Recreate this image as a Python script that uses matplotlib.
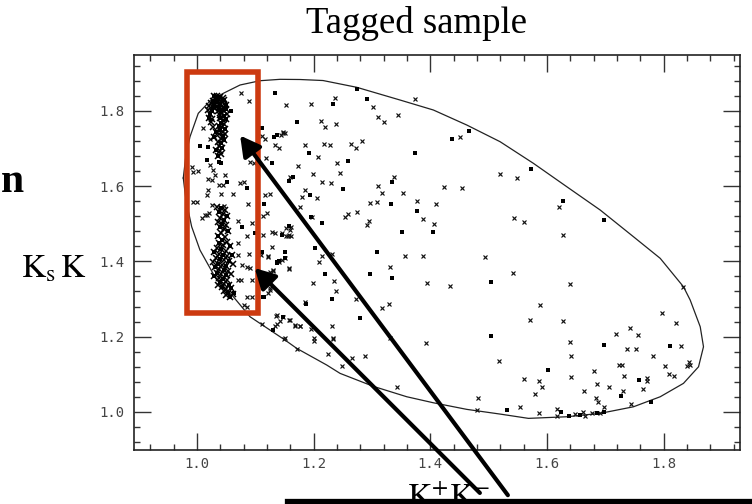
import matplotlib
matplotlib.use("Agg")
import matplotlib.pyplot as plt
from matplotlib.patches import Rectangle
from matplotlib.ticker import MultipleLocator, FixedLocator

plt.rcParams['mathtext.fontset'] = 'stix'

# ---------------- data ----------------
x_ticks = [1.0, 1.2, 1.4, 1.6, 1.8]
y_ticks = [1.0, 1.2, 1.4, 1.6, 1.8]
x_tick_labels = ["1.0", "1.2", "1.4", "1.6", "1.8"]
y_tick_labels = ["1.0", "1.2", "1.4", "1.6", "1.8"]

# traced boundary of the selection ellipse
ellipse_x = [0.9765, 0.9811, 0.9880, 1.0022, 1.0223, 1.0451, 1.0738, 1.1081, 1.1424, 1.1767,
             1.2161, 1.2739, 1.3482, 1.4053, 1.4626, 1.5197, 1.5768, 1.6341, 1.6913, 1.7484,
             1.7942, 1.8341, 1.8456, 1.8628, 1.8684, 1.8599, 1.8341, 1.7942, 1.7484, 1.6913,
             1.6341, 1.5683, 1.5197, 1.4626, 1.4053, 1.3597, 1.3024, 1.2453, 1.2225, 1.1710,
             1.1509, 1.0909, 1.0623, 1.0338, 1.0051, 0.9909, 0.9811, 0.9765]
ellipse_y = [1.6213, 1.6823, 1.7309, 1.7931, 1.8258, 1.8462, 1.8683, 1.8797, 1.8834, 1.8829,
             1.8802, 1.8622, 1.8284, 1.8019, 1.7620, 1.7177, 1.6603, 1.5981, 1.5363, 1.4653,
             1.4080, 1.3325, 1.2972, 1.2263, 1.1732, 1.1200, 1.0760, 1.0404, 1.0138, 0.9963,
             0.9873, 0.9830, 0.9944, 1.0069, 1.0244, 1.0404, 1.0680, 1.1025, 1.1246, 1.1689,
             1.1910, 1.2529, 1.3060, 1.3503, 1.4300, 1.4919, 1.5628, 1.6213]

# events drawn as crosses
cross_x = [1.195, 1.236, 1.302, 1.373, 1.212, 1.219, 1.239, 1.311, 1.320, 1.345, 1.148, 1.185, 1.218, 1.228,
           1.264, 1.272, 1.283, 1.208, 1.240, 1.174, 1.199, 1.246, 1.214, 1.230, 1.185, 1.180, 1.206, 1.177,
           1.254, 1.259, 1.275, 1.292, 1.295, 1.296, 1.308, 1.310, 1.318, 1.338, 1.353, 1.378, 1.388, 1.409,
           1.407, 1.424, 1.454, 1.451, 1.520, 1.548, 1.544, 1.561, 1.493, 1.541, 1.434, 1.395, 1.357, 1.388,
           1.331, 1.272, 1.318, 1.329, 1.571, 1.588, 1.231, 1.235, 1.238, 1.199, 1.232, 1.214, 1.209, 1.157,
           1.153, 1.162, 1.156, 1.157, 1.168, 1.176, 1.196, 1.200, 1.233, 1.151, 1.331, 1.153,
           1.621, 1.628, 1.639, 1.834,
           1.627, 1.639, 1.641, 1.393, 1.518, 1.561, 1.587, 1.591, 1.579, 1.641, 1.664, 1.681, 1.686, 1.707,
           1.719, 1.737, 1.752, 1.743, 1.756, 1.781, 1.723, 1.728, 1.732, 1.771, 1.771, 1.730, 1.764, 1.684,
           1.688, 1.698, 1.744, 1.797, 1.822, 1.830, 1.802, 1.810, 1.817, 1.843, 1.840, 1.845, 1.481, 1.480,
           1.553, 1.587, 1.617, 1.617, 1.648, 1.661, 1.665, 1.677, 1.691,
           1.111, 1.134, 1.137, 1.122, 1.125, 1.124, 1.130, 1.122, 1.136, 1.142, 1.150, 1.171, 1.201, 1.234,
           1.224, 1.265, 1.248, 1.288, 1.343,
           1.075, 1.090, 1.112, 1.116, 1.144, 1.151, 1.011, 1.022, 1.022, 1.028, 1.031, 1.002, 0.994, 1.048,
           1.019, 1.025, 1.037, 1.045, 1.062, 1.042, 1.074, 1.080, 1.019, 1.017, 0.994, 1.000, 1.091, 1.097,
           1.134, 1.140, 1.117, 1.126, 1.160, 1.025, 1.047, 1.020, 1.017, 1.070, 1.088, 1.094, 1.085, 1.070,
           1.071, 1.089, 1.078, 1.085, 1.091, 1.071, 1.076, 1.094, 1.085, 1.094, 1.085, 1.080, 1.113, 1.128,
           1.134, 1.145, 1.157, 1.160, 1.114, 1.128, 1.122, 1.140, 1.145, 1.151, 1.157, 1.125, 1.131, 1.117,
           1.125, 1.197, 1.185, 1.137, 1.148, 1.160, 1.168, 1.177, 1.118, 1.120, 1.110, 1.153, 1.162, 1.148,
           1.008, 0.991, 1.014]
cross_y = [1.818, 1.833, 1.811, 1.830, 1.773, 1.758, 1.766, 1.784, 1.771, 1.788, 1.742, 1.708, 1.712, 1.708,
           1.711, 1.700, 1.720, 1.677, 1.662, 1.654, 1.631, 1.634, 1.612, 1.607, 1.589, 1.571, 1.567, 1.545,
           1.519, 1.525, 1.531, 1.497, 1.507, 1.554, 1.558, 1.600, 1.581, 1.623, 1.581, 1.561, 1.512, 1.551,
           1.498, 1.598, 1.596, 1.731, 1.631, 1.621, 1.516, 1.505, 1.412, 1.370, 1.335, 1.343, 1.415, 1.415,
           1.386, 1.299, 1.275, 1.286, 1.243, 1.284, 1.229, 1.348, 1.321, 1.342, 1.420, 1.413, 1.399, 1.381,
           1.488, 1.492, 1.466, 1.243, 1.228, 1.227, 1.220, 1.196, 1.196, 1.196, 1.196, 1.815,
           1.545, 1.469, 1.341, 1.331,
           1.241, 1.187, 1.149, 1.182, 1.136, 1.087, 1.083, 1.065, 1.047, 1.094, 1.057, 1.110, 1.073, 1.065,
           1.207, 1.166, 1.167, 1.223, 1.205, 1.149, 1.125, 1.125, 1.095, 1.091, 1.083, 1.056, 1.060, 1.038,
           1.026, 1.014, 1.021, 1.262, 1.235, 1.175, 1.123, 1.101, 1.095, 1.134, 1.122, 1.125, 1.037, 1.005,
           1.014, 0.996, 1.007, 0.988, 0.995, 1.001, 0.988, 0.996, 0.996,
           1.234, 1.227, 1.234, 1.315, 1.328, 1.359, 1.375, 1.412, 1.256, 1.242, 1.193, 1.167, 1.189, 1.193,
           1.153, 1.142, 1.122, 1.149, 1.067,
           1.848, 1.825, 1.734, 1.724, 1.735, 1.741, 1.753, 1.726, 1.656, 1.642, 1.629, 1.640, 1.636, 1.629,
           1.620, 1.616, 1.603, 1.603, 1.580, 1.580, 1.607, 1.611, 1.589, 1.576, 1.558, 1.558, 1.664, 1.660,
           1.709, 1.700, 1.576, 1.580, 1.625, 1.550, 1.547, 1.528, 1.523, 1.508, 1.552, 1.501, 1.467, 1.448,
           1.417, 1.420, 1.390, 1.386, 1.382, 1.351, 1.351, 1.351, 1.306, 1.306, 1.280, 1.284, 1.521, 1.479,
           1.474, 1.474, 1.470, 1.483, 1.470, 1.439, 1.413, 1.399, 1.404, 1.408, 1.382, 1.373, 1.377, 1.342,
           1.324, 1.519, 1.293, 1.258, 1.253, 1.244, 1.231, 1.228, 1.674, 1.528, 1.418, 1.468, 1.468, 1.744,
           1.515, 1.650, 1.524]

# events drawn as small filled dots
dot_x = [1.234, 1.292, 1.275, 1.172, 1.192, 1.259, 1.165, 1.158, 1.251, 1.193, 1.196, 1.214, 1.332, 1.334,
         1.378, 1.405, 1.351, 1.374, 1.437, 1.467, 1.572, 1.504, 1.308, 1.334, 1.296, 1.280, 1.504, 1.219,
         1.231, 1.187, 1.203, 1.151, 1.151, 1.145, 1.147, 1.627, 1.697, 1.601, 1.698, 1.811, 1.758, 1.727,
         1.778, 1.532, 1.624, 1.637, 1.657, 1.685, 1.697, 1.131, 1.115, 1.111, 1.137, 1.141, 1.133, 1.059,
         1.112, 1.132, 1.005, 1.019, 1.018, 1.042, 1.037, 1.051, 1.085, 1.128, 1.077, 1.100, 1.064, 1.114,
         1.138, 1.157, 1.137, 1.115]
dot_y = [1.818, 1.832, 1.859, 1.771, 1.687, 1.666, 1.625, 1.614, 1.593, 1.576, 1.519, 1.501, 1.551, 1.612,
         1.534, 1.479, 1.479, 1.689, 1.724, 1.747, 1.644, 1.344, 1.426, 1.356, 1.367, 1.249, 1.202, 1.367,
         1.301, 1.288, 1.436, 1.408, 1.424, 1.470, 1.253, 1.560, 1.510, 1.111, 1.178, 1.175, 1.085, 1.043,
         1.027, 1.005, 1.001, 0.988, 0.992, 0.998, 1.001, 1.219, 1.306, 1.426, 1.395, 1.402, 1.848, 1.799,
         1.753, 1.731, 1.706, 1.704, 1.669, 1.660, 1.664, 1.611, 1.594, 1.660, 1.492, 1.474, 1.315, 1.306,
         1.399, 1.495, 1.735, 1.552]

# dense phi band (K+K- mass near 1.02)
band_x = [1.030, 1.035, 1.040, 1.044, 1.032, 1.038, 1.027, 1.042, 1.047, 1.024, 1.030, 1.035, 1.040, 1.046,
          1.050, 1.021, 1.027, 1.033, 1.038, 1.044, 1.049, 1.019, 1.025, 1.036, 1.042, 1.047, 1.022, 1.040,
          1.046, 1.051, 1.020, 1.026, 1.039, 1.044, 1.049, 1.024, 1.041, 1.046, 1.037, 1.043, 1.048, 1.028,
          1.040, 1.045, 1.033, 1.038, 1.044, 1.048, 1.030, 1.041, 1.046, 1.036, 1.042, 1.037, 1.043, 1.039,
          1.033, 1.041, 1.036,
          1.035, 1.042, 1.048, 1.038, 1.045, 1.051, 1.040, 1.047, 1.036, 1.043, 1.050, 1.039, 1.046, 1.053,
          1.041, 1.036, 1.048, 1.043, 1.051, 1.038, 1.045, 1.056, 1.034, 1.041, 1.049, 1.030, 1.037, 1.044,
          1.052, 1.060, 1.033, 1.040, 1.047, 1.055, 1.028, 1.036, 1.043, 1.050, 1.062, 1.031, 1.038, 1.046,
          1.054, 1.034, 1.041, 1.049, 1.058, 1.030, 1.037, 1.044, 1.052, 1.040, 1.047, 1.055, 1.036, 1.043,
          1.050, 1.058, 1.046, 1.053, 1.049, 1.056, 1.062]
band_y = [1.838, 1.840, 1.836, 1.833, 1.831, 1.829, 1.826, 1.825, 1.828, 1.820, 1.818, 1.821, 1.817, 1.819,
          1.815, 1.812, 1.809, 1.811, 1.806, 1.808, 1.804, 1.802, 1.798, 1.800, 1.796, 1.798, 1.791, 1.789,
          1.786, 1.790, 1.782, 1.779, 1.780, 1.776, 1.778, 1.770, 1.768, 1.764, 1.760, 1.756, 1.752, 1.757,
          1.748, 1.743, 1.744, 1.737, 1.733, 1.738, 1.730, 1.726, 1.722, 1.718, 1.713, 1.706, 1.700, 1.693,
          1.697, 1.686, 1.680,
          1.545, 1.541, 1.536, 1.530, 1.526, 1.521, 1.515, 1.510, 1.505, 1.500, 1.496, 1.490, 1.485, 1.480,
          1.475, 1.468, 1.465, 1.458, 1.452, 1.448, 1.444, 1.440, 1.436, 1.432, 1.428, 1.424, 1.420, 1.417,
          1.414, 1.418, 1.410, 1.406, 1.403, 1.400, 1.398, 1.394, 1.390, 1.388, 1.392, 1.384, 1.380, 1.377,
          1.374, 1.370, 1.366, 1.363, 1.366, 1.360, 1.356, 1.352, 1.350, 1.345, 1.341, 1.338, 1.336, 1.331,
          1.327, 1.330, 1.321, 1.316, 1.310, 1.306, 1.312]

# ---------------- figure ----------------
W, H = 752, 504
fig = plt.figure(figsize=(W / 100, H / 100), dpi=100)
fig.patch.set_facecolor('white')
ax = fig.add_axes([134 / W, 1 - 450 / H, (740 - 134) / W, (450 - 55) / H])
ax.set_xlim(0.892, 1.931)
ax.set_ylim(0.899, 1.948)

ax.plot(ellipse_x, ellipse_y, color='#222222', lw=0.9, zorder=2)
ax.plot(cross_x, cross_y, linestyle='none', marker='x', ms=3.4, mew=0.85, color='#111111', zorder=3)
ax.plot(band_x, band_y, linestyle='none', marker='x', ms=3.8, mew=1.1, color='#000000', zorder=3)
ax.plot(band_x[::2], band_y[::2], linestyle='none', marker='s', ms=2.4, mew=0, color='#000000', zorder=3)
ax.plot(dot_x, dot_y, linestyle='none', marker='s', ms=2.2, mew=0, color='#000000', zorder=3)

# ticks
ax.xaxis.set_major_locator(FixedLocator(x_ticks))
ax.yaxis.set_major_locator(FixedLocator(y_ticks))
ax.set_xticklabels(x_tick_labels)
ax.set_yticklabels(y_tick_labels)
ax.xaxis.set_minor_locator(MultipleLocator(0.04))
ax.yaxis.set_minor_locator(MultipleLocator(0.04))
ax.tick_params(which='both', direction='in', top=True, right=True, color='#333333', width=1.0)
ax.tick_params(which='major', length=12)
ax.tick_params(which='minor', length=4.5)
ax.tick_params(axis='x', pad=5, labelsize=10, labelcolor='#444444')
ax.tick_params(axis='y', pad=7, labelsize=10, labelcolor='#444444')
for lab in ax.get_xticklabels() + ax.get_yticklabels():
    lab.set_family('DejaVu Sans Mono')
for sp in ax.spines.values():
    sp.set_linewidth(1.2)
    sp.set_color('#222222')

# red selection box
ax.add_patch(Rectangle((0.9837, 1.2627), 1.1038 - 0.9837, 1.9028 - 1.2627, fill=False,
                       ec='#CC3A10', lw=4.0, clip_on=False, zorder=4))

# arrows
arrow_kw = dict(arrowstyle='-|>,head_length=0.6,head_width=0.33', lw=3, color='black',
                shrinkA=0, shrinkB=0, mutation_scale=20)
ax.annotate('', xy=(1.074, 1.734), xytext=(1.533, 0.779), arrowprops=arrow_kw,
            annotation_clip=False, zorder=5)
ax.annotate('', xy=(1.099, 1.382), xytext=(1.485, 0.785), arrowprops=arrow_kw,
            annotation_clip=False, zorder=5)

# texts
fig.text(416 / W, 1 - 33 / H, 'Tagged sample', ha='center', va='baseline',
         fontsize=26.5, family='Liberation Serif')
fig.text(21 / W, 1 - 278 / H, r'$\mathrm{K_{s}\,K}$', ha='left', va='baseline', fontsize=24)
fig.text(1 / W, 1 - 192 / H, 'n', ha='left', va='baseline', fontsize=30,
         fontweight='bold', family='Liberation Serif')
fig.text(407 / W, 1 - 507 / H, r'$\mathrm{K^{+}K^{-}}$', ha='left', va='baseline', fontsize=24,
         zorder=3)

# bottom callout box (partially visible)
fig.patches.append(Rectangle((286.5 / W, -0.3), 1.0, 0.3 + (1 - 500.5 / H),
                             transform=fig.transFigure, fc='white', ec='black', lw=3.8, zorder=6))

fig.savefig('out.png', dpi=100)
